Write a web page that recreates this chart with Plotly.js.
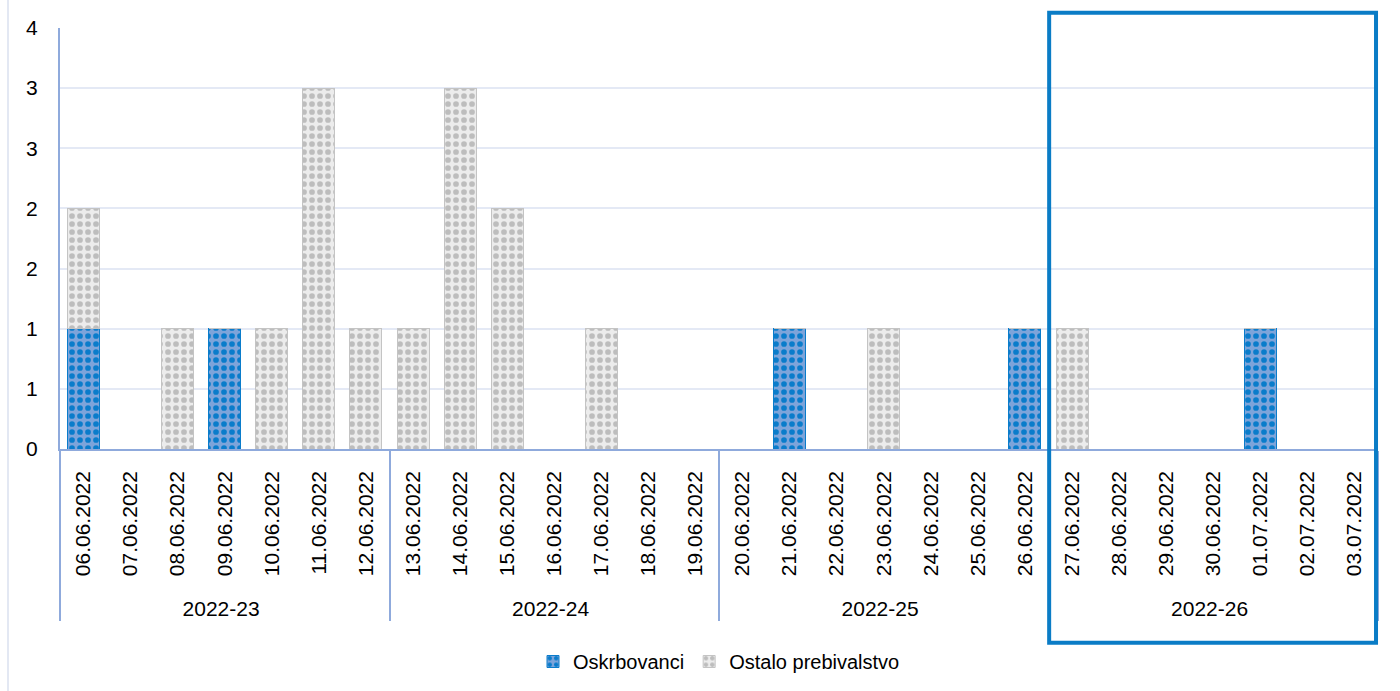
<!DOCTYPE html>
<html>
<head>
<meta charset="utf-8">
<script src="https://cdn.plot.ly/plotly-3.0.1.min.js"></script>
<style>
html,body{margin:0;padding:0;background:#fff;}
#wrap{position:relative;width:1400px;height:691px;}
#edge{position:absolute;left:7px;top:0;width:2px;height:691px;background:#E3E8F3;}
#chart{position:absolute;left:0;top:0;width:1400px;height:691px;}
</style>
</head>
<body>
<div id="wrap"><div id="chart"></div><div id="edge"></div></div>
<script>
const weeks = ["2022-23","2022-23","2022-23","2022-23","2022-23","2022-23","2022-23",
               "2022-24","2022-24","2022-24","2022-24","2022-24","2022-24","2022-24",
               "2022-25","2022-25","2022-25","2022-25","2022-25","2022-25","2022-25",
               "2022-26","2022-26","2022-26","2022-26","2022-26","2022-26","2022-26"];
const dates = ["06.06.2022","07.06.2022","08.06.2022","09.06.2022","10.06.2022","11.06.2022","12.06.2022",
               "13.06.2022","14.06.2022","15.06.2022","16.06.2022","17.06.2022","18.06.2022","19.06.2022",
               "20.06.2022","21.06.2022","22.06.2022","23.06.2022","24.06.2022","25.06.2022","26.06.2022",
               "27.06.2022","28.06.2022","29.06.2022","30.06.2022","01.07.2022","02.07.2022","03.07.2022"];
const oskrbovanci = [1,0,0,1,0,0,0, 0,0,0,0,0,0,0, 0,1,0,0,0,0,1, 0,0,0,0,1,0,0];
const ostalo      = [1,0,1,0,1,3,1, 1,3,2,0,1,0,0, 0,0,0,1,0,0,0, 1,0,0,0,0,0,0];
const yTickVals = [0,0.5,1,1.5,2,2.5,3,3.5];
const yTickText = ["0","1","1","2","2","3","3","4"];

const font = "Liberation Sans, Arial, sans-serif";
const traces = [
  {type:"bar", name:"Oskrbovanci", x:[weeks,dates], y:oskrbovanci,
   marker:{color:"#7AA2D9", line:{color:"#0A7CCB", width:1},
     pattern:{shape:".", fgcolor:"#0A7CCB", bgcolor:"#7DA4DA", size:8, solidity:0.4, fillmode:"replace"}},
   hoverinfo:"y"},
  {type:"bar", name:"Ostalo prebivalstvo", x:[weeks,dates], y:ostalo,
   marker:{color:"#ECECEC", line:{color:"#C4C4C4", width:1},
     pattern:{shape:".", fgcolor:"#BDBDBD", bgcolor:"#ECECEC", size:8, solidity:0.4, fillmode:"replace"}},
   hoverinfo:"y"}
];
const layout = {
  width:1400, height:691,
  margin:{l:60, r:22, t:28, b:241},
  barmode:"stack", bargap:0.32,
  paper_bgcolor:"#fff", plot_bgcolor:"#fff",
  font:{family:font, size:21, color:"#000"},
  showlegend:true,
  legend:{orientation:"h", x:0.5, xanchor:"center", y:-0.455, yanchor:"top",
          font:{family:font, size:20, color:"#000"}, traceorder:"normal", itemwidth:30},
  xaxis:{type:"multicategory", tickangle:-90, showline:true, linecolor:"#8FAADC", linewidth:2,
         showdividers:true, dividercolor:"#8FAADC", dividerwidth:2,
         showgrid:false, ticks:"", ticksuffix:"\u00A0\u00A0",
         tickfont:{family:font, size:21, color:"#000"}},
  yaxis:{range:[0,3.5], tickvals:yTickVals, ticktext:yTickText, showline:true, linecolor:"#8FAADC", linewidth:2,
         gridcolor:"#E4E9F5", gridwidth:2, zeroline:false, ticks:"outside", ticklen:16, tickcolor:"rgba(0,0,0,0)",
         tickfont:{family:font, size:21, color:"#000"}},
  shapes:[{type:"rect", xref:"paper", yref:"paper", x0:0.7505, x1:0.9985, y0:-0.46, y1:1.036,
           line:{color:"#0A7CC6", width:4}, fillcolor:"rgba(0,0,0,0)"}]
};
Plotly.newPlot("chart", traces, layout, {displayModeBar:false, staticPlot:true});
</script>
</body>
</html>
